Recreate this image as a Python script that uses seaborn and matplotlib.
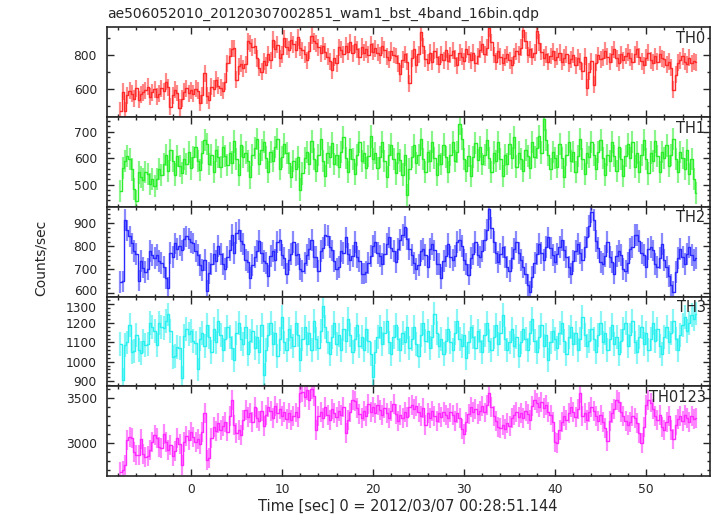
# WAM light curve, 4 bandas + suma (qdp de Suzaku)

import numpy as np
import pandas as pd
import matplotlib
matplotlib.use("Agg")
import matplotlib.pyplot as plt
import matplotlib.transforms as mtrans
import seaborn as sns
from matplotlib.ticker import MultipleLocator

# bins de 0.25 s, centros desde -7.75 s
T_START = -7.75
BIN = 0.25

bands = ["TH0", "TH1", "TH2", "TH3", "TH0123"]
colors = ["#ff2a2a", "#2aee2a", "#2a2aff", "#2af0f0", "#ff2aff"]
typical_err = [50, 42, 47, 62, 110]

th0 = [
    470, 582, 468, 560, 588, 571, 541, 603, 534, 566, 579, 590, 612, 553, 577, 596,
    553, 571, 602, 584, 641, 607, 494, 561, 592, 574, 486, 539, 582, 603, 572, 591,
    569, 598, 586, 515, 562, 690, 558, 531, 612, 598, 651, 617, 606, 588, 641, 748,
    792, 834, 838, 652, 731, 747, 719, 742, 879, 868, 843, 851, 778, 722, 698, 761,
    738, 802, 767, 889, 832, 858, 779, 803, 898, 846, 829, 884, 861, 828, 903, 842,
    827, 801, 768, 822, 912, 879, 866, 843, 809, 852, 818, 787, 762, 708, 783, 748,
    843, 829, 801, 853, 817, 872, 808, 861, 833, 789, 846, 812, 831, 799, 862, 818,
    838, 812, 797, 852, 829, 788, 771, 823, 798, 792, 748, 688, 771, 802, 758, 632,
    779, 833, 741, 802, 931, 851, 777, 752, 812, 758, 823, 788, 742, 801, 768, 829,
    762, 798, 823, 779, 738, 812, 788, 761, 832, 801, 768, 812, 749, 791, 828, 862,
    803, 841, 955, 872, 798, 759, 822, 789, 751, 783, 802, 768, 738, 792, 821, 801,
    842, 948, 881, 798, 832, 788, 812, 942, 871, 818, 781, 802, 758, 792, 819, 771,
    788, 812, 758, 781, 802, 748, 772, 798, 738, 783, 758, 702, 788, 606, 698, 762,
    622, 751, 798, 772, 781, 822, 788, 758, 802, 832, 778, 751, 801, 768, 792, 812,
    782, 758, 801, 831, 788, 762, 738, 781, 812, 768, 752, 792, 758, 802, 779, 772,
    741, 758, 722, 592, 681, 752, 768, 791, 758, 742, 782, 748, 762, 756,
]

th1 = [
    475, 563, 588, 607, 598, 557, 482, 438, 546, 528, 519, 548, 541, 503, 522, 494,
    521, 558, 537, 576, 612, 552, 631, 588, 538, 607, 571, 543, 598, 579, 624, 561,
    603, 642, 588, 556, 621, 668, 652, 577, 612, 548, 629, 604, 566, 641, 608, 573,
    619, 583, 663, 597, 536, 648, 603, 621, 589, 527, 612, 638, 671, 578, 632, 662,
    602, 547, 624, 588, 641, 672, 558, 603, 652, 618, 581, 528, 589, 557, 603, 481,
    542, 601, 622, 577, 663, 598, 551, 612, 671, 589, 532, 618, 603, 658, 579, 611,
    568, 622, 678, 601, 548, 633, 598, 541, 612, 661, 588, 621, 562, 609, 682, 598,
    618, 561, 603, 662, 588, 529, 612, 651, 598, 542, 619, 591, 538, 612, 462, 558,
    603, 648, 581, 612, 671, 598, 548, 622, 589, 662, 601, 538, 612, 578, 651, 603,
    548, 612, 661, 588, 622, 728, 671, 598, 552, 609, 531, 603, 658, 591, 642, 578,
    612, 668, 601, 548, 621, 589, 662, 598, 531, 612, 578, 652, 601, 678, 568, 621,
    598, 552, 631, 608, 562, 661, 603, 638, 682, 621, 746, 668, 612, 558, 622, 601,
    568, 652, 601, 528, 612, 661, 589, 622, 548, 608, 672, 598, 541, 618, 603, 661,
    611, 558, 622, 668, 601, 538, 612, 588, 662, 609, 551, 642, 598, 532, 608, 652,
    601, 662, 568, 621, 548, 612, 668, 598, 542, 621, 589, 663, 608, 548, 622, 601,
    648, 571, 612, 671, 598, 548, 622, 601, 558, 632, 541, 598, 522, 468,
]

th2 = [
    645, 648, 913, 868, 842, 812, 781, 768, 652, 738, 708, 688, 702, 781, 763, 748,
    762, 738, 726, 712, 662, 622, 771, 752, 812, 788, 803, 782, 832, 842, 833, 818,
    812, 778, 762, 718, 698, 742, 608, 683, 722, 768, 738, 802, 768, 722, 703, 752,
    782, 848, 772, 858, 872, 823, 808, 742, 732, 662, 718, 752, 778, 822, 771, 738,
    728, 673, 758, 778, 742, 818, 828, 762, 748, 682, 742, 768, 818, 762, 768, 702,
    692, 728, 762, 788, 828, 752, 752, 692, 778, 792, 848, 846, 798, 782, 738, 702,
    712, 778, 772, 838, 768, 742, 758, 818, 752, 738, 682, 682, 688, 728, 758, 802,
    818, 772, 758, 722, 768, 808, 838, 792, 778, 732, 788, 828, 848, 882, 832, 788,
    762, 728, 702, 718, 778, 788, 762, 712, 788, 808, 782, 722, 722, 662, 738, 758,
    808, 752, 742, 758, 818, 828, 802, 742, 722, 678, 748, 768, 818, 762, 752, 778,
    828, 872, 962, 878, 818, 772, 732, 768, 798, 752, 712, 692, 748, 788, 818, 772,
    742, 712, 682, 632, 602, 668, 728, 768, 808, 772, 742, 798, 838, 792, 762, 732,
    768, 798, 828, 782, 752, 712, 682, 738, 778, 808, 772, 742, 798, 838, 888, 948,
    912, 822, 792, 732, 722, 758, 818, 752, 732, 682, 758, 778, 762, 702, 692, 728,
    788, 798, 848, 848, 822, 772, 762, 712, 788, 798, 782, 722, 712, 748, 808, 742,
    712, 672, 632, 602, 688, 748, 788, 752, 722, 768, 798, 762, 742, 748,
]

th3 = [
    1094, 905, 1085, 1100, 1190, 1050, 1055, 1140, 1060, 1045, 1110, 1085, 1090, 1200, 1180, 1160,
    1085, 1200, 1180, 1175, 1210, 1245, 1160, 1025, 1030, 1075, 1070, 915, 1135, 1170, 1145, 1160,
    1110, 1095, 960, 1120, 1150, 1080, 1190, 1130, 1050, 1170, 1100, 1210, 1140, 1060, 1120, 1180,
    1130, 1070, 1010, 1150, 1200, 1120, 1090, 1180, 1040, 1110, 1160, 1070, 1130, 1050, 1190, 930,
    1060, 1140, 1200, 1090, 1150, 1030, 1120, 1230, 1100, 1060, 1170, 1130, 1080, 1200, 1140, 1010,
    1120, 1180, 1090, 1150, 1060, 1210, 1120, 1070, 1160, 1290, 1180, 1100, 1040, 1130, 1200, 1090,
    1140, 1060, 1170, 1110, 1220, 1140, 1050, 1120, 1190, 1080, 1130, 1060, 1170, 1110, 1040, 920,
    1050, 1130, 1180, 1090, 1150, 1210, 1100, 1040, 1130, 1190, 1120, 1060, 1150, 1100, 1180, 1070,
    1120, 1180, 1090, 1030, 1140, 1200, 1110, 1160, 1070, 1130, 1250, 1150, 1080, 1120, 1040, 1110,
    1170, 1100, 1060, 1150, 1210, 1120, 1080, 1140, 1020, 1100, 1180, 1130, 1070, 1160, 1110, 1050,
    1140, 1200, 1110, 1060, 1130, 1190, 1090, 1150, 1240, 1120, 1060, 1100, 1170, 1080, 1130, 1030,
    1100, 1170, 1120, 1060, 1150, 1220, 1110, 1050, 1130, 1190, 1080, 1140, 1010, 1100, 1160, 1120,
    1070, 1150, 1200, 1110, 1040, 1130, 1180, 1090, 1150, 1060, 1120, 1230, 1140, 1080, 1110, 1170,
    1120, 1050, 1140, 1200, 1100, 1150, 1060, 1120, 1190, 1090, 1130, 1040, 1110, 1170, 1200, 1080,
    1140, 1210, 1100, 1050, 1130, 1180, 1090, 1150, 1060, 1120, 1200, 1110, 1170, 1080, 1040, 1130,
    1180, 1100, 1150, 1210, 1120, 1060, 1140, 1190, 1230, 1160, 1200, 1240, 1220, 1250,
]

th0123 = [
    2684, 2700, 2760, 3035, 3070, 3060, 2900, 2870, 2875, 3050, 2880, 2850, 2860, 2925, 3015, 3090,
    3060, 2960, 2950, 3100, 3010, 2930, 2980, 2860, 2920, 3060, 2990, 2760, 3010, 3080, 3040, 3130,
    3070, 3015, 3050, 2990, 3120, 3330, 2815, 2840, 3060, 3180, 3140, 3220, 3150, 3190, 3240, 3130,
    3300, 3480, 3200, 3110, 3150, 3090, 3260, 3370, 3290, 3330, 3240, 3400, 3280, 3250, 3360, 3190,
    3310, 3400, 3360, 3280, 3410, 3330, 3380, 3300, 3350, 3270, 3330, 3260, 3300, 3340, 3290, 3550,
    3570, 3510, 3590, 3480, 3600, 3520, 3145, 3300, 3350, 3280, 3400, 3310, 3260, 3380, 3330, 3290,
    3360, 3310, 3400, 3110, 3260, 3340, 3480, 3470, 3390, 3320, 3280, 3360, 3300, 3430, 3350, 3400,
    3330, 3420, 3370, 3310, 3390, 3330, 3280, 3360, 3430, 3320, 3250, 3310, 3280, 3350, 3290, 3400,
    3420, 3380, 3410, 3340, 3300, 3390, 3200, 3330, 3280, 3360, 3300, 3250, 3330, 3290, 3350, 3310,
    3280, 3340, 3310, 3250, 3330, 3280, 3160, 3100, 3230, 3320, 3400, 3350, 3380, 3320, 3360, 3410,
    3340, 3420, 3550, 3400, 3300, 3250, 3180, 3170, 3200, 3160, 3220, 3190, 3280, 3310, 3350, 3290,
    3330, 3280, 3360, 3320, 3260, 3410, 3480, 3440, 3400, 3460, 3390, 3420, 3350, 3310, 3230, 3010,
    3000, 3150, 3230, 3300, 3260, 3330, 3400, 3350, 3290, 3380, 3550, 3300, 3330, 3260, 3350, 3400,
    3360, 3300, 3250, 3310, 3240, 3170, 3030, 3250, 3330, 3380, 3480, 3460, 3350, 3300, 3250, 3200,
    3230, 3300, 3280, 3220, 3110, 3000, 3180, 3420, 3480, 3450, 3380, 3300, 3260, 3310, 3180, 3150,
    3230, 3300, 3150, 3050, 3200, 3270, 3300, 3250, 3310, 3280, 3240, 3300, 3270, 3280,
]

rates = [th0, th1, th2, th3, th0123]

# ejes: limites y ticks por panel
ylims = [(432, 961), (416, 755), (583, 970), (873, 1338), (2639, 3629)]
y_major = [200, 100, 100, 100, 500]
y_minor = [100, 20, 20, 20, 100]

sns.set_style("ticks")
plt.rcParams["font.family"] = ["DejaVu Sans"]
plt.rcParams["font.size"] = 10

fig, axes = plt.subplots(5, 1, figsize=(7.17, 5.16), dpi=100, sharex=True)
fig.subplots_adjust(left=0.1488, right=0.990, top=0.947, bottom=0.0775, hspace=0)

for i, ax in enumerate(axes):
    vals = rates[i]
    df = pd.DataFrame({"time": T_START + BIN * np.arange(len(vals)), "rate": vals})
    ax.errorbar(df["time"], df["rate"], yerr=typical_err[i], fmt="none",
                ecolor=colors[i], elinewidth=1.6, alpha=0.55, capsize=0)
    sns.lineplot(data=df, x="time", y="rate", ax=ax, color=colors[i], lw=1.0,
                 drawstyle="steps-mid", estimator=None)
    ax.set_ylim(*ylims[i])
    ax.set_xlim(-9.26, 57.0)
    ax.yaxis.set_major_locator(MultipleLocator(y_major[i]))
    ax.yaxis.set_minor_locator(MultipleLocator(y_minor[i]))
    ax.xaxis.set_major_locator(MultipleLocator(10))
    ax.xaxis.set_minor_locator(MultipleLocator(2))
    ax.tick_params(which="both", direction="in", top=True, right=True, width=1,
                   labelsize=8.8)
    ax.tick_params(which="major", length=5)
    ax.tick_params(which="minor", length=2.5)
    ax.tick_params(axis="y", pad=7)
    ax.tick_params(axis="x", pad=5)
    ax.set_xlabel("")
    ax.set_ylabel("")
    for s in ax.spines.values():
        s.set_linewidth(1.2)
    ax.text(0.993, 0.96, bands[i], transform=ax.transAxes, ha="right", va="top",
            fontsize=10.5)

# el 600 de TH2 y el 1300 de TH3 quedan pegados: separarlos un par de px
fig.canvas.draw()
for lbl in axes[2].get_yticklabels():
    if lbl.get_text() == "600":
        lbl.set_transform(lbl.get_transform() + mtrans.ScaledTranslation(0, 2 / 72, fig.dpi_scale_trans))
for lbl in axes[3].get_yticklabels():
    if lbl.get_text() == "1300":
        lbl.set_transform(lbl.get_transform() + mtrans.ScaledTranslation(0, -2 / 72, fig.dpi_scale_trans))

fig.text(107 / 717, 1 - 14 / 516, "ae506052010_20120307002851_wam1_bst_4band_16bin.qdp",
         ha="left", va="center", fontsize=10)
fig.text(41 / 717, 1 - 258 / 516, "Counts/sec", rotation=90, ha="center", va="center",
         fontsize=10)
fig.text(408 / 717, 1 - 506 / 516, "Time [sec] 0 = 2012/03/07 00:28:51.144",
         ha="center", va="center", fontsize=10.5)

fig.savefig("out.png", dpi=100)
